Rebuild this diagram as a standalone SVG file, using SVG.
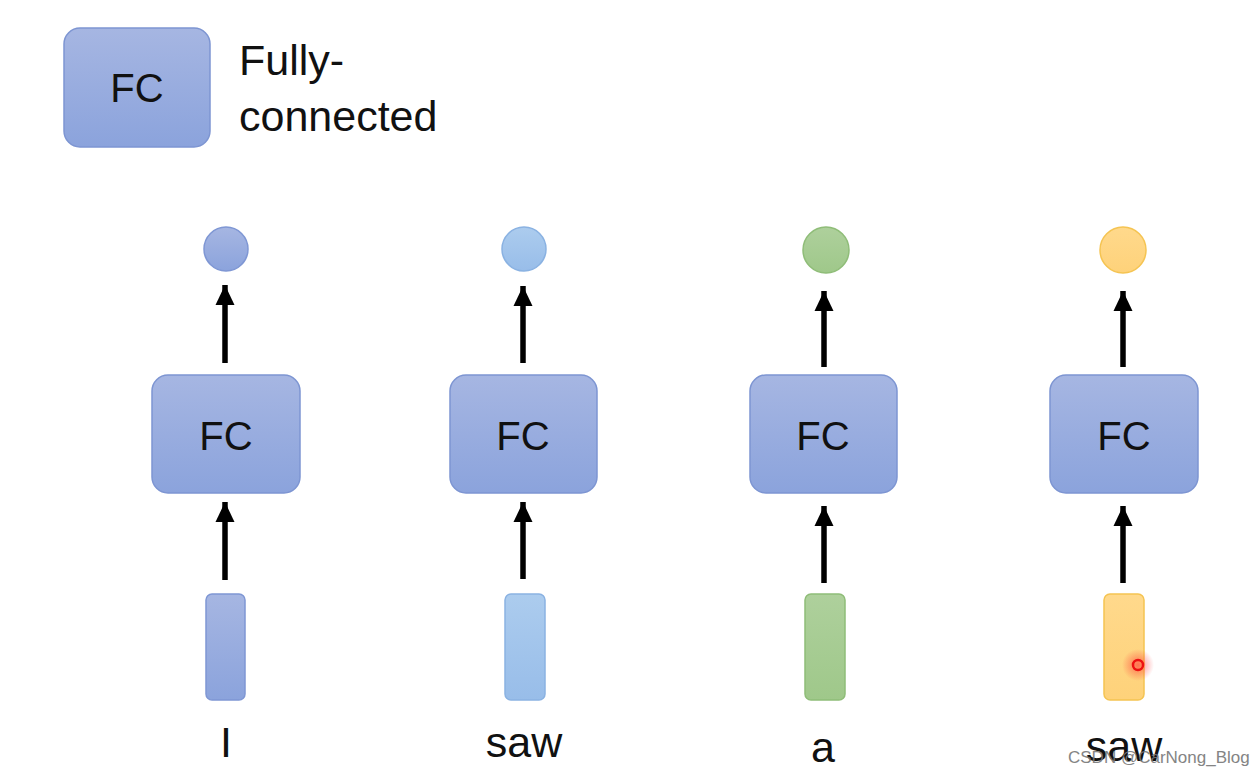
<svg xmlns="http://www.w3.org/2000/svg" width="1259" height="775" viewBox="0 0 1259 775">
  <defs>
    <linearGradient id="gBlue" x1="0" y1="0" x2="0" y2="1">
      <stop offset="0" stop-color="#a6b6e2"/>
      <stop offset="1" stop-color="#8ba3dc"/>
    </linearGradient>
    <linearGradient id="gLight" x1="0" y1="0" x2="0" y2="1">
      <stop offset="0" stop-color="#acccee"/>
      <stop offset="1" stop-color="#98bde9"/>
    </linearGradient>
    <linearGradient id="gGreen" x1="0" y1="0" x2="0" y2="1">
      <stop offset="0" stop-color="#aed09c"/>
      <stop offset="1" stop-color="#9fc88a"/>
    </linearGradient>
    <linearGradient id="gOrange" x1="0" y1="0" x2="0" y2="1">
      <stop offset="0" stop-color="#ffd98c"/>
      <stop offset="1" stop-color="#fed27a"/>
    </linearGradient>
    <radialGradient id="gGlow">
      <stop offset="0" stop-color="#ff3030" stop-opacity="0.6"/>
      <stop offset="1" stop-color="#ff3030" stop-opacity="0"/>
    </radialGradient>
    <marker id="arrow" markerUnits="userSpaceOnUse" markerWidth="22" markerHeight="22" viewBox="0 0 22 22" refX="20" refY="11" orient="auto">
      <path d="M0,1.5 L20,11 L0,20.5 Z" fill="#000"/>
    </marker>
  </defs>
  <style>
    .fc { fill: url(#gBlue); stroke: #7d95d2; stroke-width: 1.5; }
    .lbl { font-family: "Liberation Sans", Arial, sans-serif; fill: #111; }
    .fct { font-size: 40px; text-anchor: middle; }
    .word { font-size: 43px; text-anchor: middle; }
    .conn { stroke: #000; stroke-width: 5.5; fill: none; marker-end: url(#arrow); }
    .cBlue { fill: url(#gBlue); stroke: #7f97d4; stroke-width: 1.5; }
    .cLight { fill: url(#gLight); stroke: #8ab2e2; stroke-width: 1.5; }
    .cGreen { fill: url(#gGreen); stroke: #8fbd78; stroke-width: 1.5; }
    .cOrange { fill: url(#gOrange); stroke: #f5c452; stroke-width: 1.5; }
  </style>
  <rect width="1259" height="775" fill="#ffffff"/>

  <g id="legend">
    <rect class="fc" x="64" y="28" width="146" height="119" rx="16"/>
    <text class="lbl fct" x="137" y="102">FC</text>
    <text class="lbl" x="239" y="75" font-size="43">Fully-</text>
    <text class="lbl" x="239" y="131" font-size="43">connected</text>
  </g>

  <g id="connectors">
    <line class="conn" x1="225" y1="363" x2="225" y2="285"/>
    <line class="conn" x1="523" y1="363" x2="523" y2="286"/>
    <line class="conn" x1="824" y1="367" x2="824" y2="291"/>
    <line class="conn" x1="1123" y1="367" x2="1123" y2="291"/>
    <line class="conn" x1="225" y1="580" x2="225" y2="502"/>
    <line class="conn" x1="523" y1="579" x2="523" y2="502"/>
    <line class="conn" x1="824" y1="583" x2="824" y2="506"/>
    <line class="conn" x1="1123" y1="583" x2="1123" y2="506"/>
  </g>

  <g id="out1"><circle class="cBlue" cx="226" cy="249" r="22"/></g>
  <g id="out2"><circle class="cLight" cx="524" cy="249" r="22"/></g>
  <g id="out3"><circle class="cGreen" cx="826" cy="250" r="23"/></g>
  <g id="out4"><circle class="cOrange" cx="1123" cy="250" r="23"/></g>

  <g id="fc1"><rect class="fc" x="152" y="375" width="148" height="118" rx="16"/><text class="lbl fct" x="226" y="450">FC</text></g>
  <g id="fc2"><rect class="fc" x="450" y="375" width="147" height="118" rx="16"/><text class="lbl fct" x="523" y="450">FC</text></g>
  <g id="fc3"><rect class="fc" x="750" y="375" width="147" height="118" rx="16"/><text class="lbl fct" x="823" y="450">FC</text></g>
  <g id="fc4"><rect class="fc" x="1050" y="375" width="148" height="118" rx="16"/><text class="lbl fct" x="1124" y="450">FC</text></g>

  <g id="in1"><rect class="cBlue" x="206" y="594" width="39" height="106" rx="6"/><text class="lbl word" x="226" y="757">I</text></g>
  <g id="in2"><rect class="cLight" x="505" y="594" width="40" height="106" rx="6"/><text class="lbl word" x="524" y="757">saw</text></g>
  <g id="in3"><rect class="cGreen" x="805" y="594" width="40" height="106" rx="6"/><text class="lbl word" x="823" y="762">a</text></g>
  <g id="in4"><rect class="cOrange" x="1104" y="594" width="40" height="106" rx="6"/><text class="lbl word" x="1124" y="761">saw</text></g>

  <circle cx="1138" cy="665" r="16" fill="url(#gGlow)"/>
  <circle cx="1138" cy="665" r="5" fill="none" stroke="#ee1111" stroke-width="2.5"/>
  <text x="1068" y="763" font-family="Liberation Sans, Arial, sans-serif" font-size="17" fill="#777" opacity="0.9">CSDN @CarNong_Blog</text>
</svg>
